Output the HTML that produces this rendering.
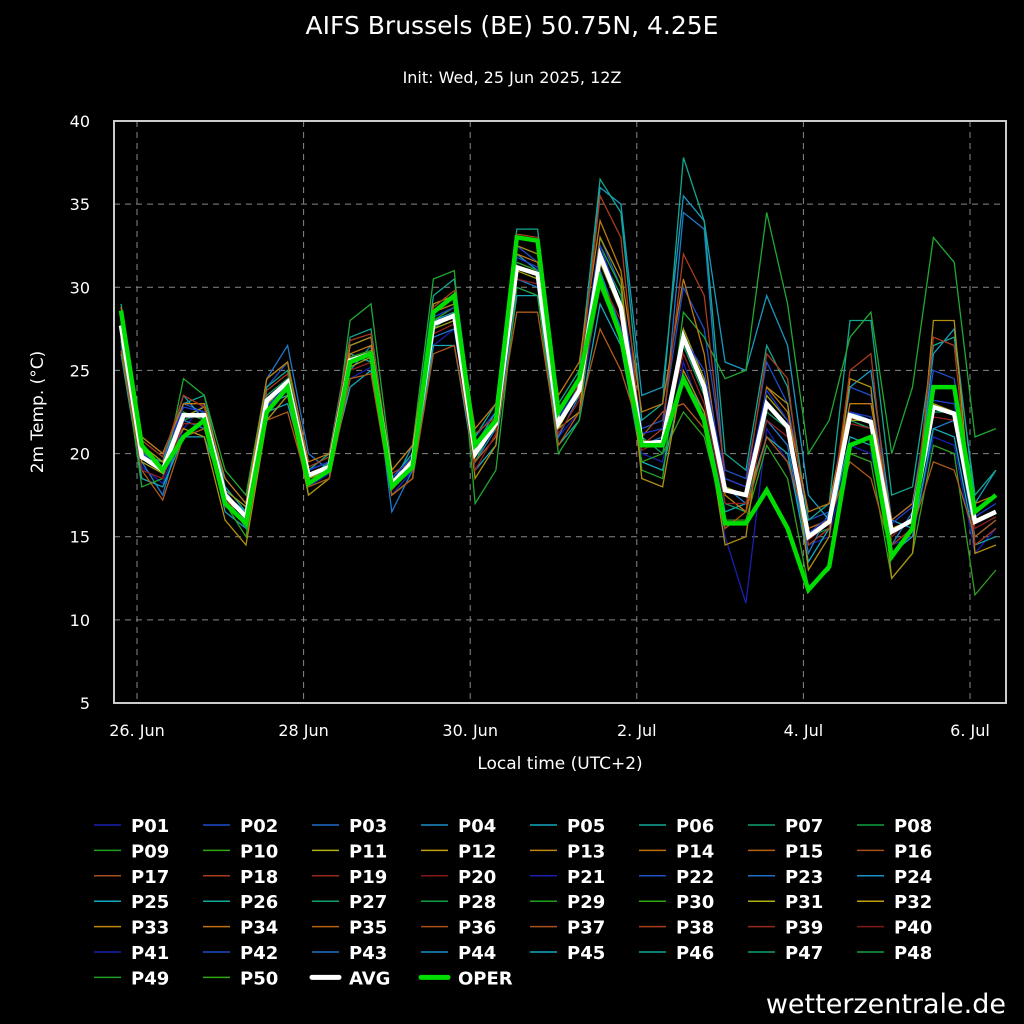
<!DOCTYPE html>
<html><head><meta charset="utf-8"><style>
html,body{margin:0;padding:0;background:#000;}
svg{display:block;font-family:"DejaVu Sans","Liberation Sans",sans-serif;}
</style></head><body>
<svg id="chart" width="1024" height="1024" viewBox="0 0 1024 1024">
<rect x="0" y="0" width="1024" height="1024" fill="#000"/>
<text x="512" y="34" text-anchor="middle" fill="#fff" font-size="25">AIFS Brussels (BE) 50.75N, 4.25E</text>
<text x="512" y="83" text-anchor="middle" fill="#fff" font-size="16">Init: Wed, 25 Jun 2025, 12Z</text>
<g id="grid"></g>
<g id="series"></g>
<rect x="114" y="121" width="892" height="582" fill="none" stroke="#ccc" stroke-width="2"/>
<g id="axes"></g>
<text transform="translate(43,412) rotate(-90)" text-anchor="middle" fill="#fff" font-size="17">2m Temp. (°C)</text>
<text x="560" y="769" text-anchor="middle" fill="#fff" font-size="17">Local time (UTC+2)</text>
<g id="legend"></g>
<text x="1006" y="1013" text-anchor="end" fill="#fff" font-size="27">wetterzentrale.de</text>
</svg>
<script>
const yTicks=[5,10,15,20,25,30,35,40];
const xTickLabels=["26. Jun","28 Jun","30. Jun","2. Jul","4. Jul","6. Jul"];
const xTickDays=[0.33,2.33,4.33,6.33,8.33,10.33];
const avg=[27.7,19.8,19.0,22.3,22.3,17.5,16.2,23.2,24.3,18.7,19.2,25.6,26.0,18.2,19.5,27.8,28.3,20.0,21.8,31.2,30.8,21.8,23.8,31.9,28.8,20.6,20.7,27.0,24.0,17.8,17.5,23.0,21.6,15.0,15.9,22.3,21.9,15.3,16.0,22.8,22.4,15.9,16.5];
const oper=[28.6,20.5,19.0,21.0,22.0,17.0,15.8,22.5,24.0,18.2,19.0,25.5,26.0,18.0,19.2,28.5,29.5,20.5,22.0,33.0,32.8,22.5,24.5,30.5,27.0,20.5,20.5,24.5,22.0,15.8,15.8,17.8,15.5,11.8,13.2,20.5,21.0,13.8,15.5,24.0,24.0,16.5,17.5];
const m01=[26.5,19.2,18.2,21.5,23.0,18.0,16.5,22.0,23.5,18.0,18.8,24.5,25.2,17.5,19.0,26.5,27.5,19.5,21.0,30.0,29.5,21.0,22.5,30.5,27.0,20.0,19.5,25.5,22.0,15.0,11.0,21.5,19.5,14.5,15.0,20.5,20.0,14.5,15.0,21.0,20.5,14.0,15.5];
const m02=[28.0,20.5,19.5,23.0,22.5,17.0,16.0,24.0,25.5,19.0,19.5,26.5,27.0,18.5,20.0,28.5,29.0,21.0,22.5,32.5,31.5,22.5,24.5,33.0,30.0,21.5,22.0,30.0,27.5,19.0,18.5,25.5,23.0,16.0,16.5,24.0,23.5,16.0,17.0,25.0,24.5,16.5,17.5];
const m03=[27.0,19.5,17.5,22.0,21.5,18.5,17.0,24.5,26.5,20.0,19.0,25.0,26.5,16.5,19.0,27.0,27.5,19.5,21.5,30.5,30.0,21.0,23.5,31.0,27.5,20.5,21.0,34.5,33.5,18.0,17.0,22.0,20.5,14.0,16.5,22.5,22.0,14.5,16.5,21.5,22.0,15.0,16.0];
const m04=[28.5,20.0,19.5,23.5,22.0,16.5,15.5,23.0,23.5,18.5,19.5,26.0,25.5,18.0,20.5,28.0,28.5,20.5,22.5,32.0,31.0,22.0,24.0,36.0,35.0,23.5,24.0,35.5,34.0,25.5,25.0,29.5,26.5,17.5,16.0,24.0,25.0,16.0,15.5,26.0,27.5,17.0,19.0];
const m05=[26.0,18.5,18.0,21.0,21.0,17.5,16.5,22.5,23.0,18.5,19.0,24.0,25.0,17.5,18.5,26.5,26.5,19.0,20.5,29.5,29.5,20.5,22.0,29.0,26.5,19.5,19.0,24.5,22.5,16.5,17.0,21.0,20.0,13.5,15.5,21.0,20.5,14.0,15.0,21.5,21.0,14.5,15.0];
const m06=[29.0,21.0,20.0,23.0,23.5,18.0,16.5,24.0,25.0,19.0,20.0,27.0,27.5,18.5,20.0,29.5,30.5,21.0,23.0,33.5,33.5,23.0,25.0,36.5,34.5,22.0,23.0,37.8,34.0,20.0,19.0,26.5,24.0,16.0,17.0,28.0,28.0,17.5,18.0,26.5,27.0,17.5,19.0];
const m07=[27.5,19.8,19.5,22.0,22.5,17.5,15.5,23.5,24.5,18.5,19.5,25.5,26.0,18.0,19.5,27.5,28.5,19.5,22.0,31.5,31.0,22.0,23.5,32.0,29.5,21.0,20.0,26.5,23.5,17.0,16.5,22.5,21.5,15.0,15.5,22.0,21.5,15.5,16.0,22.5,22.5,16.0,16.5];
const m08=[26.8,18.0,18.5,24.5,23.5,19.0,17.5,24.5,25.5,17.5,18.5,28.0,29.0,19.0,20.5,30.5,31.0,17.0,19.0,30.0,29.5,20.0,22.0,32.5,30.0,19.0,18.5,28.5,27.0,24.5,25.0,34.5,29.0,20.0,22.0,27.0,28.5,20.0,24.0,33.0,31.5,21.0,21.5];
const m09=[28.2,20.2,19.0,22.5,22.0,17.0,15.0,22.5,24.0,18.8,19.0,25.8,26.2,18.3,19.2,28.0,28.8,20.2,21.5,31.5,31.0,22.0,23.5,30.0,27.0,19.5,20.0,22.5,21.0,16.0,16.0,20.5,18.5,12.0,13.0,20.0,19.5,12.5,14.0,20.5,20.0,11.5,13.0];
const m10=[27.8,19.5,18.8,22.2,22.8,17.8,16.8,23.0,24.0,18.5,19.0,25.2,25.8,18.0,19.8,27.5,28.0,19.8,21.8,31.0,30.5,21.5,23.8,31.5,28.5,20.8,20.5,27.5,24.5,18.0,17.5,23.5,22.0,15.5,16.0,22.0,22.0,15.5,16.0,23.0,22.5,16.0,16.5];
const m11=[27.0,20.5,19.5,21.5,21.0,16.0,14.5,22.0,23.5,17.5,18.5,26.5,27.0,17.5,18.5,29.0,29.5,18.5,20.5,32.5,32.0,21.5,22.5,33.0,30.5,18.5,18.0,25.0,22.5,14.5,15.0,24.0,23.0,13.0,15.0,24.5,24.0,12.5,14.0,28.0,28.0,14.0,14.5];
const m12=[28.8,21.0,20.0,23.0,23.0,18.5,17.0,24.5,25.5,19.5,20.0,26.0,26.5,19.0,20.5,28.5,29.0,21.5,23.0,32.0,31.5,23.5,25.5,34.0,31.0,22.5,23.0,30.5,26.0,17.5,16.5,24.0,22.5,16.5,17.0,23.0,23.0,16.0,17.0,24.0,24.0,17.0,17.5];
const m13=[26.2,19.0,17.2,21.0,21.5,17.0,15.8,22.0,22.5,18.0,18.5,24.5,24.8,17.5,18.5,26.0,26.5,19.5,21.0,28.5,28.5,20.5,22.5,27.5,25.0,21.0,22.5,23.0,21.5,15.5,16.5,21.0,19.5,15.5,16.0,19.5,18.5,14.0,15.5,19.5,19.0,15.0,16.0];
const m14=[28.4,20.8,19.8,23.5,22.8,17.2,16.2,23.8,24.8,19.2,19.8,26.8,27.2,18.8,19.5,28.8,29.8,21.2,22.2,33.2,33.0,21.8,24.2,35.5,33.0,20.5,21.5,32.0,29.5,18.5,18.0,26.0,24.5,14.5,15.5,25.0,26.0,14.5,15.5,27.0,26.5,14.5,15.5];
const m15=[27.2,19.0,18.5,21.8,21.8,16.8,16.0,23.2,24.2,18.2,19.2,25.0,25.5,17.8,19.2,27.2,27.8,19.0,21.2,30.5,30.2,21.2,23.2,30.5,28.0,20.2,20.8,26.0,23.0,17.0,17.0,22.0,21.0,14.8,15.8,21.8,21.5,15.0,16.2,22.2,22.0,15.5,16.2];
const m16=[27.9,20.0,19.2,22.8,22.5,17.8,16.0,22.8,24.2,19.0,19.5,25.5,26.0,18.5,19.8,28.2,28.8,20.5,21.8,31.8,31.2,22.2,24.0,32.5,29.0,21.2,21.5,27.0,25.0,18.5,18.0,23.8,22.0,15.2,16.2,22.5,22.2,15.8,16.8,23.2,23.0,16.2,17.0];
const members=[m01,m02,m03,m04,m05,m06,m07,m08,m09,m10,m11,m12,m13,m14,m15,m16];
const memberColors=["#1820b0","#1e4fc8","#1f78c8","#1a98c0","#14a8b8","#12a890","#10a060","#20a830","#30a020","#a0a010","#b09010","#c07810","#b05a18","#a83c1c","#902020","#1e3cd0"];

const X0=121,DX=20.83,Y0=703,YS=(703-121)/35;
const xs=i=>X0+i*DX;
const ys=v=>Y0-(v-5)*YS;
const dayX=d=>137+d*83.35-0.33*83.35+0*0;
const NS="http://www.w3.org/2000/svg";
function mk(tag,attrs,parent){const e=document.createElementNS(NS,tag);for(const k in attrs)e.setAttribute(k,attrs[k]);parent.appendChild(e);return e;}
const grid=document.getElementById('grid'),axes=document.getElementById('axes');
yTicks.forEach(t=>{
  if(t>5&&t<40){const l=mk('line',{x1:114,x2:1006,y1:ys(t),y2:ys(t),stroke:'#888','stroke-dasharray':'6,5','stroke-width':1},grid);
  
  }
  const tx=mk('text',{x:90,y:ys(t)+6,'text-anchor':'end',fill:'#fff','font-size':16},axes);
  tx.textContent=t;
  
  
});
xTickDays.forEach((d,i)=>{
  const x=137+(d-0.33)*83.3;
  const l=mk('line',{x1:x,x2:x,y1:121,y2:703,stroke:'#888','stroke-dasharray':'6,5','stroke-width':1},grid);
  
  
  const tx=mk('text',{x:x,y:736,'text-anchor':'middle',fill:'#fff','font-size':16},axes);
  tx.textContent=xTickLabels[i];
  
  
});
const sg=document.getElementById('series');
function pts(arr){return arr.map((v,i)=>xs(i).toFixed(1)+','+ys(v).toFixed(1)).join(' ');}
members.forEach((m,k)=>{
  const p=mk('polyline',{points:pts(m),fill:'none',stroke:memberColors[k],'stroke-width':1.3},sg);
  
  
});
const pa=mk('polyline',{points:pts(avg),fill:'none',stroke:'#fff','stroke-width':4.5},sg);


const po=mk('polyline',{points:pts(oper),fill:'none',stroke:'#00dd00','stroke-width':4.5},sg);



const legendColors=["#1820b0","#1e4fc8","#1f6fc8","#1a90c8","#14a8c0","#12a898","#10a070","#10a040","#20a020","#30a810","#b0b010","#c0a010","#c08810","#c07010","#b86010","#a85018","#a85020","#a83c1c","#982820","#801818","#1820b0","#1e4fc8","#1f6fc8","#1a90c8","#14a8c0","#12a898","#10a070","#10a040","#20a020","#30a810","#b0b010","#c0a010","#c08810","#c07010","#b86010","#a85018","#a85020","#a83c1c","#982820","#801818"];
const lg=document.getElementById('legend');
const labels=[];for(let i=1;i<=50;i++)labels.push('P'+String(i).padStart(2,'0'));labels.push('AVG','OPER');
labels.forEach((lab,i)=>{
  const c=i%8,r=Math.floor(i/8);
  const x=94+c*109,y=825+r*25.4;
  const g=mk('g',{},lg);
  
  
  let col,w=1.5;
  if(lab==='AVG'){col='#fff';w=5;}else if(lab==='OPER'){col='#00dd00';w=5;}else col=legendColors[i%40];
  mk('line',{x1:x,x2:x+27,y1:y,y2:y,stroke:col,'stroke-width':w,'stroke-linecap':w>2?'round':'butt'},g);
  const t=mk('text',{x:x+37,y:y+7,fill:'#fff','font-size':18,'font-weight':'bold'},g);
  t.textContent=lab;
});
</script>
</body></html>
